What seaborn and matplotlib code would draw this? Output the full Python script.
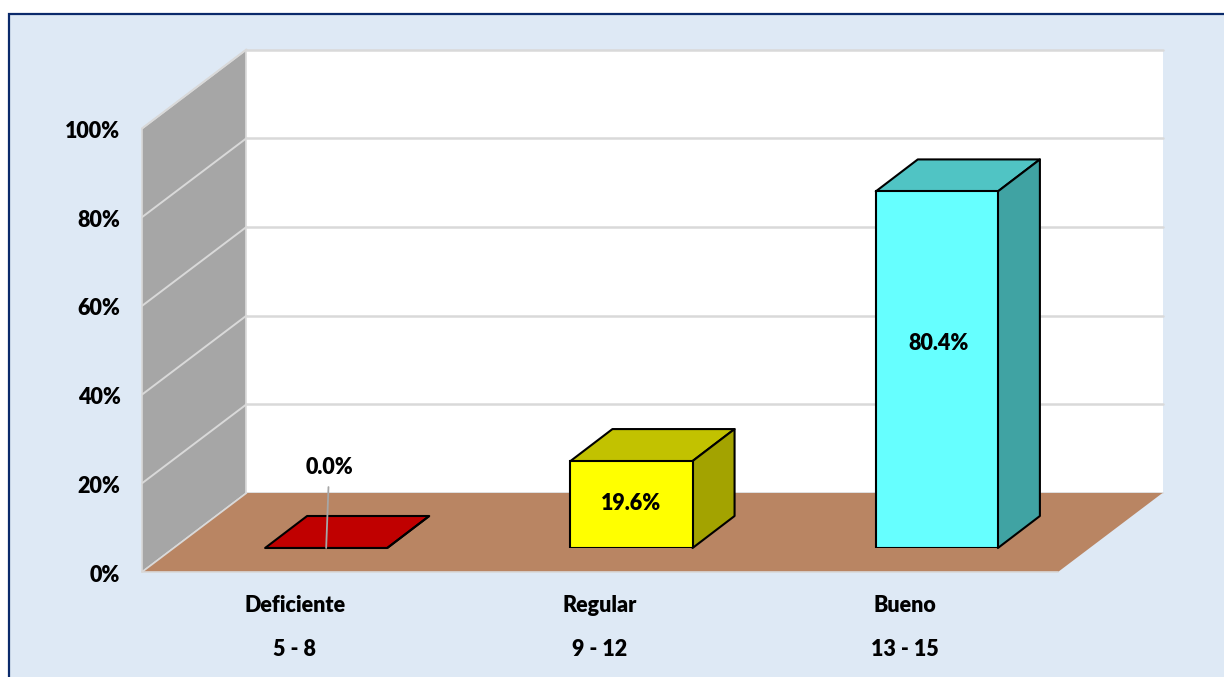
import pandas as pd
import seaborn as sns
import matplotlib.pyplot as plt
from matplotlib.patches import Polygon, Rectangle
from matplotlib.transforms import ScaledTranslation

# Data
categorias = ['Deficiente', 'Regular', 'Bueno']
rangos = ['5 - 8', '9 - 12', '13 - 15']
porcentajes = [0.0, 19.6, 80.4]
etiquetas = ['0.0%', '19.6%', '80.4%']
marcas_y = [0, 20, 40, 60, 80, 100]

color_frente = ['#C00000', '#FFFF00', '#66FFFF']
color_techo = ['#C00000', '#C2C200', '#50C4C4']
color_lado = ['#C00000', '#A3A300', '#40A3A3']

# Figure size in pixels, used to place the axes like in the original
W, H = 1224, 677
PLANO_X0, PLANO_X1 = 142.0, 1058.0
PLANO_Y0, PLANO_Y100 = 572.0, 128.5
LETRA = 15.5

sns.set_theme(style='white')
plt.rcParams['font.family'] = ['Lato', 'DejaVu Sans']


def caja(x0, y0, x1, y1):
    return [x0 / W, 1 - y0 / H, (x1 - x0) / W, (y0 - y1) / H]


fig = plt.figure(figsize=(W / 100, H / 100), dpi=100, facecolor='white')
fig.add_artist(Rectangle((8.5 / W, -0.1), 1.1, 1.1 - 14 / H, transform=fig.transFigure,
                         facecolor='#DEE9F5', edgecolor='#0B2A6B', linewidth=1.6, zorder=-1))

# Front plane axes: ticks and walls
ax = fig.add_axes(caja(PLANO_X0, PLANO_Y0, PLANO_X1, PLANO_Y100))
ax.set_facecolor('none')
ax.set_xlim(-0.5, 2.5)
ax.set_ylim(0, 100)
sns.despine(ax=ax, left=True, bottom=True)

px_x = 3 / (PLANO_X1 - PLANO_X0)
px_y = 100 / (PLANO_Y0 - PLANO_Y100)
fondo_x = 104.5 * px_x
fondo_y = 79 * px_y
x_izq, x_der = -0.5, 2.5

# Side wall, back wall and floor
ax.add_patch(Polygon([(x_izq, 0), (x_izq, 100), (x_izq + fondo_x, 100 + fondo_y), (x_izq + fondo_x, fondo_y)],
                     facecolor='#A6A6A6', edgecolor='#D9D9D9', linewidth=1.2, clip_on=False, zorder=1))
ax.add_patch(Polygon([(x_izq + fondo_x, fondo_y), (x_izq + fondo_x, 100 + fondo_y),
                      (x_der + fondo_x, 100 + fondo_y), (x_der + fondo_x, fondo_y)],
                     facecolor='white', edgecolor='none', clip_on=False, zorder=1))
ax.add_patch(Polygon([(x_izq, 0), (x_der, 0), (x_der + fondo_x, fondo_y), (x_izq + fondo_x, fondo_y)],
                     facecolor='#B98563', edgecolor='none', clip_on=False, zorder=2))
ax.plot([x_izq, x_der], [0, 0], color='#D9D9D9', lw=1.2, clip_on=False, zorder=2)
ax.plot([x_izq, x_izq + fondo_x], [0, fondo_y], color='#D9D9D9', lw=1.2, clip_on=False, zorder=3)
ax.plot([x_izq + fondo_x, x_der + fondo_x], [fondo_y, fondo_y], color='#D9D9D9', lw=1.2, clip_on=False, zorder=1.5)
ax.plot([x_izq + fondo_x, x_izq + fondo_x], [fondo_y, 100 + fondo_y], color='#D9D9D9', lw=1.2, clip_on=False,
        zorder=1.5)

for v in marcas_y[1:]:
    ax.plot([x_izq, x_izq + fondo_x], [v, v + fondo_y], color='#D9D9D9', lw=1.4, clip_on=False, zorder=1.5)
    ax.plot([x_izq + fondo_x, x_der + fondo_x], [v + fondo_y, v + fondo_y], color='#D9D9D9', lw=1.8,
            clip_on=False, zorder=1.5)

ax.set_yticks(marcas_y)
ax.set_yticklabels([f'{v}%' for v in marcas_y], fontsize=LETRA, fontweight='heavy', color='black',
                   va='center')
ax.set_xticks(range(3))
ax.set_xticklabels([f'{c}\n{r}' for c, r in zip(categorias, rangos)], fontsize=LETRA, fontweight='heavy',
                   color='black', linespacing=2.34)
ax.tick_params(axis='y', length=0, pad=15.5)
ax.tick_params(axis='x', length=0, pad=16.5)

# y labels sit a few pixels under their grid height
bajar = ScaledTranslation(0, -3 / 100, fig.dpi_scale_trans)
for etiqueta in ax.get_yticklabels():
    etiqueta.set_transform(etiqueta.get_transform() + bajar)

# Bars sit a little inside the floor, so they get their own shifted axes
DX, DY = 31.5, 24.0
ax_barras = fig.add_axes(caja(PLANO_X0 + DX, PLANO_Y0 - DY, PLANO_X1 + DX, PLANO_Y100 - DY))
ax_barras.set_facecolor('none')
df = pd.DataFrame({'categoria': categorias, 'porcentaje': porcentajes})
sns.barplot(data=df, x='categoria', y='porcentaje', hue='categoria', palette=color_frente, hue_order=categorias,
            order=categorias, width=0.4, saturation=1, edgecolor='black', linewidth=1.5, legend=False,
            ax=ax_barras, zorder=3)
ax_barras.set_xlim(-0.5, 2.5)
ax_barras.set_ylim(0, 100)
ax_barras.axis('off')

prof_x = 42 * px_x
prof_y = 32 * px_y
borde = dict(edgecolor='black', linewidth=1.5, joinstyle='round', clip_on=False)
for i, valor in enumerate(porcentajes):
    x0, x1 = i - 0.2, i + 0.2
    ax_barras.add_patch(Polygon([(x0, valor), (x1, valor), (x1 + prof_x, valor + prof_y), (x0 + prof_x, valor + prof_y)],
                                facecolor=color_techo[i], zorder=2, **borde))
    ax_barras.add_patch(Polygon([(x1, 0), (x1 + prof_x, prof_y), (x1 + prof_x, valor + prof_y), (x1, valor)],
                                facecolor=color_lado[i], zorder=2, **borde))

# Data labels (0.0% has a leader line down to its flat bar)
texto = dict(ha='center', va='center', fontsize=LETRA, fontweight='heavy', color='black', zorder=5)
ax_barras.annotate(etiquetas[0], xy=(0, 0), xytext=(0.01, 18.1), clip_on=False,
                   arrowprops=dict(arrowstyle='-', color='#A6A6A6', lw=1.3, shrinkA=4, shrinkB=0), **texto)
ax_barras.text(1, 10.1, etiquetas[1], **texto)
ax_barras.text(2.007, 46.1, etiquetas[2], **texto)

fig.savefig('out.png', dpi=100, facecolor='white')
